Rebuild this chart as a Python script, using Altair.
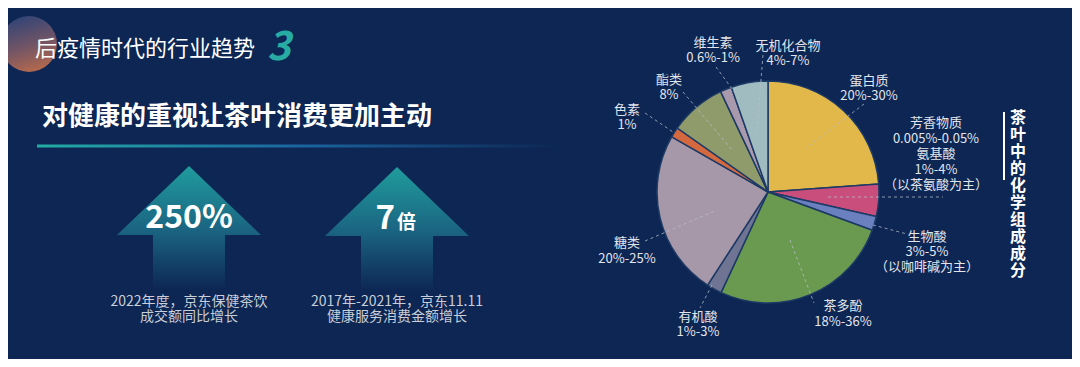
import altair as alt
import pandas as pd

# ---------------- data ----------------
components = ["蛋白质", "氨基酸", "生物碱", "茶多酚", "有机酸", "糖类", "色素", "酯类", "维生素", "无机化合物"]
# slice sizes (share of the circle, degrees)
shares = [86, 17, 7.4, 95, 8, 87, 5.4, 29.6, 6, 19.3]
slice_colors = ["#E2B84B", "#C94E7C", "#6A80BF", "#699A4F", "#6F7493",
                "#A697A9", "#D4693F", "#909B6B", "#A999AD", "#A0BCC0"]

label_blocks = [
    ["维生素", "0.6%-1%"],
    ["无机化合物", "4%-7%"],
    ["酯类", "8%"],
    ["色素", "1%"],
    ["蛋白质", "20%-30%"],
    ["芳香物质", "0.005%-0.05%", "氨基酸", "1%-4%", "（以茶氨酸为主）"],
    ["生物酸", "3%-5%", "（以咖啡碱为主）"],
    ["茶多酚", "18%-36%"],
    ["有机酸", "1%-3%"],
    ["糖类", "20%-25%"],
]

title_text = "后疫情时代的行业趋势"
title_num = "3"
subtitle_text = "对健康的重视让茶叶消费更加主动"
stat_values = ["250%", "7"]
stat_unit = "倍"
stat_captions = [["2022年度，京东保健茶饮", "成交额同比增长"],
                 ["2017年-2021年，京东11.11", "健康服务消费金额增长"]]
side_title = "茶叶中的化学组成成分"

# ---------------- layout (reference pixel coordinates) ----------------
W, H = 1064, 351
OFF = 8
BG = "#0D2653"
FONT = "Noto Sans CJK SC"

xs = alt.Scale(domain=[OFF, OFF + W], nice=False, zero=False)
ys = alt.Scale(domain=[OFF, OFF + H], nice=False, zero=False, reverse=True)


def X(f):
    return alt.X(f, type="quantitative", scale=xs, axis=None)


def Y(f):
    return alt.Y(f, type="quantitative", scale=ys, axis=None)


def X2(f):
    return alt.X2(f)


def Y2(f):
    return alt.Y2(f)


def text_layer(rows, size, color="#FFFFFF", weight="normal", align="center",
               style="normal", baseline="middle"):
    df = pd.DataFrame(rows, columns=["t", "x", "y"])
    return alt.Chart(df).mark_text(
        font=FONT, fontSize=size, color=color, fontWeight=weight,
        align=align, baseline=baseline, fontStyle=style
    ).encode(x=X("x"), y=Y("y"), text="t:N")


layers = []

# decorative gradient circle (top-left)
circle_df = pd.DataFrame({"x": [29], "y": [44]})
layers.append(
    alt.Chart(circle_df).mark_point(
        shape="circle", filled=True, size=56 * 56, opacity=0.9, strokeWidth=0,
        fill=alt.LinearGradient(gradient="linear", x1=0.3, y1=0, x2=0.6, y2=1,
                                stops=[alt.GradientStop(offset=0, color="#34477A"),
                                       alt.GradientStop(offset=0.55, color="#7E5A68"),
                                       alt.GradientStop(offset=1, color="#C8714C")])
    ).encode(x=X("x"), y=Y("y"))
)

# title
layers.append(text_layer([[title_text, 35, 49]], 22, align="left"))
layers.append(text_layer([[title_num, 267, 48]], 40, color="#27ABA3",
                         weight="bold", align="left", style="italic"))
# subtitle
layers.append(text_layer([[subtitle_text, 42, 117]], 26, weight="bold", align="left"))

# gradient underline
line_df = pd.DataFrame({"x": [37], "x2": [560], "y": [144.5], "y2": [147.5]})
layers.append(
    alt.Chart(line_df).mark_rect(
        fill=alt.LinearGradient(gradient="linear", x1=0, y1=0, x2=1, y2=0,
                                stops=[alt.GradientStop(offset=0, color="#22ADA3"),
                                       alt.GradientStop(offset=0.5, color="#1B65A0"),
                                       alt.GradientStop(offset=1, color=BG)])
    ).encode(x=X("x"), x2=X2("x2"), y=Y("y"), y2=Y2("y2"))
)

# arrows
arrow_path = ("M0,-0.861 L1,0.097 L0.5,0.097 L0.5,0.861 L-0.5,0.861 "
              "L-0.5,0.097 L-1,0.097 Z")
arrow_df = pd.DataFrame({"x": [189, 397], "y": [228, 229]})
layers.append(
    alt.Chart(arrow_df).mark_point(
        shape=arrow_path, filled=True, size=144 * 144, strokeWidth=0, opacity=1,
        fill=alt.LinearGradient(gradient="linear", x1=0, y1=0, x2=0, y2=1,
                                stops=[alt.GradientStop(offset=0, color="#1F9C9C"),
                                       alt.GradientStop(offset=0.5, color="#1B6683"),
                                       alt.GradientStop(offset=1, color=BG)])
    ).encode(x=X("x"), y=Y("y"))
)

# stat numbers
layers.append(text_layer([[stat_values[0], 189, 218]], 32, weight="bold"))
layers.append(text_layer([[stat_values[1], 395, 219]], 33, weight="bold", align="right"))
layers.append(text_layer([[stat_unit, 397, 223]], 19, weight="bold", align="left"))

# captions
cap_rows = []
for cap, cx in zip(stat_captions, [189, 397]):
    for i, line in enumerate(cap):
        cap_rows.append([line, cx, 302 + 15 * i])
layers.append(text_layer(cap_rows, 14, color="#C9CED8"))

# pie
pie_df = pd.DataFrame({"comp": components, "share": shares,
                       "order": list(range(len(components)))})
layers.append(
    alt.Chart(pie_df).mark_arc(radius=111, stroke="#1D3A66", strokeWidth=1.5).encode(
        theta=alt.Theta("share:Q", stack=True),
        order=alt.Order("order:Q"),
        color=alt.Color("comp:N", scale=alt.Scale(domain=components, range=slice_colors),
                        legend=None),
        x=alt.value(768 - OFF), y=alt.value(192 - OFF),
    )
)

# leader lines
leaders = pd.DataFrame({
    "x": [716, 763, 683, 645, 864, 828, 873, 790, 712, 645],
    "y": [67, 55, 92, 113, 104, 197, 225, 240, 285, 241],
    "x2": [738, 757, 732, 673, 806, 943, 907, 814, 700, 717],
    "y2": [97, 130, 150, 132, 148, 197, 234, 303, 308, 210],
})
layers.append(
    alt.Chart(leaders).mark_rule(color="#B9BFCC", strokeDash=[3, 3], strokeWidth=1,
                                 opacity=0.75).encode(
        x=X("x"), y=Y("y"), x2=X2("x2"), y2=Y2("y2"))
)

# pie labels
label_pos = [(713, 43), (788, 46), (669, 80), (627, 110), (869, 81),
             (936, 123), (927, 237), (843, 306), (698, 317), (627, 243)]
label_gap = [14.5, 14.5, 14.5, 14.5, 15, 15.5, 15, 16, 15, 16]
lab_rows = []
for lines, (lx, ly), g in zip(label_blocks, label_pos, label_gap):
    for i, line in enumerate(lines):
        lab_rows.append([line, lx, ly + g * i])
layers.append(text_layer(lab_rows, 13, color="#E2E5EC"))

# side title with bar
bar_df = pd.DataFrame({"x": [1003], "x2": [1005], "y": [112], "y2": [180]})
layers.append(alt.Chart(bar_df).mark_rect(color="#FFFFFF").encode(
    x=X("x"), x2=X2("x2"), y=Y("y"), y2=Y2("y2")))
side_rows = [[ch, 1018, 118 + 17 * i] for i, ch in enumerate(side_title)]
layers.append(text_layer(side_rows, 16, weight="bold"))

chart = alt.layer(*layers).properties(
    width=W, height=H, background=BG, padding=0,
    autosize=alt.AutoSizeParams(type="none"),
).configure_view(stroke=None)

chart.save("out.html", embed_options={"renderer": "svg", "actions": False})
